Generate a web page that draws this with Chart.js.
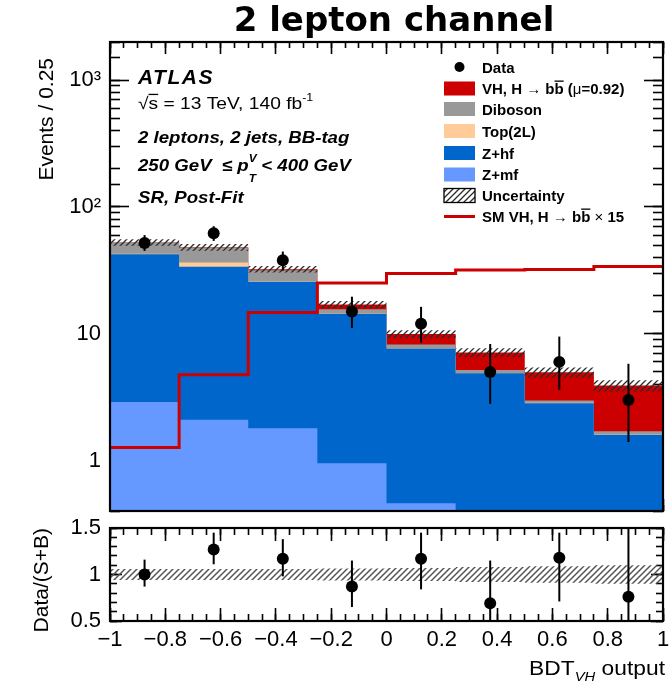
<!DOCTYPE html>
<html>
<head>
<meta charset="utf-8">
<title>2 lepton channel</title>
<script src="https://cdn.jsdelivr.net/npm/chart.js@4.4.0/dist/chart.umd.min.js"></script>
<style>
  body { margin: 0; background: #fff; }
  #wrap { position: relative; width: 671px; height: 692px; }
  #mainChart { position: absolute; left: 0; top: 0; }
  #ratioChart { position: absolute; left: 0; top: 496px; }
</style>
</head>
<body>
<div id="wrap">
  <canvas id="mainChart" width="671" height="516"></canvas>
  <canvas id="ratioChart" width="671" height="196"></canvas>
</div>
<script>
// BDT_VH output binning (8 bins of 0.25)
const binEdges = [-1, -0.75, -0.5, -0.25, 0, 0.25, 0.5, 0.75, 1];

// post-fit yields per bin
const zmf     = [2.9, 2.1, 1.8, 0.95, 0.46, 0.3, 0.25, 0.15];
const zhf     = [39.5, 31.6, 23.9, 13.35, 7.2, 4.57, 2.58, 1.45];
const top2L   = [0.4, 2.7, 0.3, 0.1, 0.05, 0.03, 0.02, 0.01];
const diboson = [9.6, 11.4, 5.7, 1.2, 0.5, 0.27, 0.12, 0.09];
const signal  = [0.1, 0.3, 0.6, 1.4, 1.75, 1.96, 2.0, 2.2];
const smVHx15 = [1.27, 4.75, 14.7, 25.1, 29.9, 31.9, 32.1, 33.9];
const relUnc  = [0.06, 0.06, 0.06, 0.065, 0.07, 0.08, 0.09, 0.10];

// observed events and error bar ends
const dataObs  = [52, 62, 38, 15, 12, 5, 6, 3];
const dataLow  = [45, 54, 31.5, 11.1, 8.5, 2.8, 3.6, 1.4];
const dataHigh = [60, 70.5, 44.5, 19.6, 16.3, 8.3, 9.5, 5.8];

// Data/(S+B)
const ratioObs  = [1.0, 1.27, 1.17, 0.87, 1.17, 0.69, 1.18, 0.76];
const ratioLow  = [0.87, 1.11, 0.98, 0.65, 0.84, 0.40, 0.71, 0.35];
const ratioHigh = [1.16, 1.45, 1.38, 1.15, 1.45, 1.15, 1.45, 1.60];

const colors = {
  signal: '#cc0000',
  diboson: '#999999',
  top2L: '#ffcc99',
  zhf: '#0066cc',
  zmf: '#6699ff',
  smLine: '#cc0000'
};

const SANS = '"Liberation Sans", Arial, Helvetica, sans-serif';
const font = (style, size) => `${style} ${size}px ${SANS}`;

const binCenters = binEdges.slice(0, -1).map((e, i) => (e + binEdges[i + 1]) / 2);

// histogram as a stepped line: one point per left edge plus the closing edge
function stepPoints(values) {
  const pts = values.map((v, i) => ({ x: binEdges[i], y: v }));
  pts.push({ x: binEdges[binEdges.length - 1], y: values[values.length - 1] });
  return pts;
}

function addLayers(...layers) {
  return layers[0].map((_, i) => layers.reduce((s, l) => s + l[i], 0));
}

function hatchPattern(color, width) {
  const c = document.createElement('canvas');
  c.width = 6; c.height = 6;
  const g = c.getContext('2d');
  g.strokeStyle = color;
  g.lineWidth = width;
  g.beginPath();
  g.moveTo(0, 6); g.lineTo(6, 0);
  g.moveTo(-1, 1); g.lineTo(1, -1);
  g.moveTo(5, 7); g.lineTo(7, 5);
  g.stroke();
  return g.createPattern(c, 'repeat');
}

// stacked tops, bottom layer first
const stackZmf = zmf;
const stackZhf = addLayers(zmf, zhf);
const stackTop = addLayers(zmf, zhf, top2L);
const stackDib = addLayers(zmf, zhf, top2L, diboson);
const stackAll = addLayers(zmf, zhf, top2L, diboson, signal);
const bandUp = stackAll.map((v, i) => v * (1 + relUnc[i]));
const bandDn = stackAll.map((v, i) => v * (1 - relUnc[i]));

// run of text pieces with their own fonts / offsets, sx stretches horizontally
function textWidth(ctx, parts, sx = 1) {
  let w = 0;
  parts.forEach(p => {
    ctx.font = p.f;
    ctx.letterSpacing = p.ls || '0px';
    if (!p.stay) w += ctx.measureText(p.t).width;
  });
  ctx.letterSpacing = '0px';
  return w * sx;
}

function drawRich(ctx, x, y, parts, sx = 1) {
  ctx.save();
  ctx.translate(x, y);
  ctx.scale(sx, 1);
  let cx = 0;
  parts.forEach(p => {
    ctx.font = p.f;
    ctx.letterSpacing = p.ls || '0px';
    const w = ctx.measureText(p.t).width;
    ctx.fillText(p.t, cx, p.dy || 0);
    if (p.bar) {
      const size = parseFloat(p.f.match(/(\d+(\.\d+)?)px/)[1]);
      ctx.fillRect(cx, (p.dy || 0) - size * 0.86 - 0.6, w, 1.3);
    }
    if (!p.stay) cx += w;
  });
  ctx.restore();
}

const isDecade = v => Math.abs(Math.log10(v) - Math.round(Math.log10(v))) < 1e-6;
const isHalf = v => Math.abs(v * 2 - Math.round(v * 2)) < 1e-6;
const decadeText = { 0: '1', 1: '10', 2: '10\u00B2', 3: '10\u00B3' };

// scriptable tick colour: only keep the marks where keep(value) holds
const tickColorIf = keep => c => (c.tick && keep(c.tick.value)) ? '#000' : 'rgba(0,0,0,0)';

// grid options that draw short tick marks pointing into the plot area
const innerTicks = (len, color) => ({
  display: true,
  drawOnChartArea: false,
  drawTicks: true,
  tickLength: -len,
  tickWidth: 1.6,
  tickColor: color || '#000'
});

// a zero-size axis that only contributes tick marks along one edge of the frame
function tickAxis(type, position, min, max, len, step, color) {
  return {
    type, position, min, max,
    display: true,
    weight: 0,
    afterFit: s => {
      if (s.isHorizontal()) s.height = 0; else s.width = 0;
      s.paddingTop = 0; s.paddingBottom = 0; s.paddingLeft = 0; s.paddingRight = 0;
    },
    border: { display: false },
    grid: innerTicks(len, color),
    ticks: { display: false, autoSkip: false, stepSize: step }
  };
}

// plot frame
const frame = {
  id: 'frame',
  afterDraw(chart) {
    const { ctx, chartArea: a } = chart;
    ctx.save();
    ctx.strokeStyle = '#000';
    ctx.lineWidth = 2.2;
    ctx.strokeRect(a.left, a.top, a.right - a.left, a.bottom - a.top);
    ctx.restore();
  }
};

// vertical error bars on the data markers
function errorBars(low, high) {
  return {
    id: 'errorBars',
    afterDatasetsDraw(chart) {
      const { ctx, chartArea: a, scales: { x, y } } = chart;
      ctx.save();
      ctx.beginPath();
      ctx.rect(a.left, a.top, a.right - a.left, a.bottom - a.top);
      ctx.clip();
      ctx.strokeStyle = '#000';
      ctx.lineWidth = 2;
      low.forEach((lo, i) => {
        const px = x.getPixelForValue(binCenters[i]);
        ctx.beginPath();
        ctx.moveTo(px, y.getPixelForValue(lo));
        ctx.lineTo(px, y.getPixelForValue(high[i]));
        ctx.stroke();
      });
      ctx.restore();
    }
  };
}

const mainHatch = hatchPattern('#2b2b2b', 1.3);
const ratioHatch = hatchPattern('#555555', 1.5);

// title, axis title, ATLAS label and legend of the upper panel
const mainDecor = {
  id: 'mainDecor',
  afterDraw(chart) {
    const { ctx, chartArea: a } = chart;
    ctx.save();
    ctx.fillStyle = '#000';
    ctx.strokeStyle = '#000';
    ctx.textBaseline = 'alphabetic';

    ctx.font = 'bold 34px "DejaVu Sans", sans-serif';
    ctx.textAlign = 'center';
    ctx.fillText('2 lepton channel', 394, 31);

    // y axis title, top aligned
    ctx.save();
    ctx.translate(53, a.top + 16);
    ctx.rotate(-Math.PI / 2);
    ctx.textAlign = 'right';
    ctx.font = font('normal', 21);
    ctx.fillText('Events / 0.25', 0, 0);
    ctx.restore();

    ctx.textAlign = 'left';
    const lx = 138, st = 1.13;
    drawRich(ctx, lx, 84, [{ t: 'ATLAS', f: font('italic bold', 21), ls: '1.5px' }]);
    drawRich(ctx, lx, 109, [
      { t: '\u221A', f: font('normal', 17) },
      { t: 's', f: font('normal', 17), bar: true },
      { t: ' = 13 TeV, 140 fb', f: font('normal', 17) },
      { t: '-1', f: font('normal', 11), dy: -8 }
    ], st);
    drawRich(ctx, lx, 143, [{ t: '2 leptons, 2 jets, BB-tag', f: font('italic bold', 16.5) }], st);
    drawRich(ctx, lx, 171, [
      { t: '250 GeV  \u2264 ', f: font('italic bold', 16.5) },
      { t: 'p', f: font('italic bold', 16.5) },
      { t: 'V', f: font('italic bold', 10.5), dy: -9, stay: true },
      { t: 'T', f: font('italic bold', 10.5), dy: 11 },
      { t: ' < 400 GeV', f: font('italic bold', 16.5) }
    ], st);
    drawRich(ctx, lx, 203, [{ t: 'SR, Post-Fit', f: font('italic bold', 16.5) }], st);

    // legend
    const bx = 444, bw = 31, bh = 14, tx = 482;
    const rows = [67, 88.5, 109, 131, 153, 174.5, 195.5, 216.5];
    const bold = font('bold', 15), reg = font('normal', 15);
    const hbb = [
      { t: 'H ', f: bold },
      { t: '\u2192', f: reg },
      { t: ' b', f: bold },
      { t: 'b', f: bold, bar: true }
    ];

    ctx.beginPath();
    ctx.arc(bx + bw / 2, rows[0], 5, 0, Math.PI * 2);
    ctx.fill();
    drawRich(ctx, tx, rows[0] + 5.5, [{ t: 'Data', f: bold }]);

    const boxes = [
      [colors.signal, [{ t: 'VH, ', f: bold }, ...hbb, { t: ' (', f: bold }, { t: '\u03BC', f: reg }, { t: '=0.92)', f: bold }]],
      [colors.diboson, [{ t: 'Diboson', f: bold }]],
      [colors.top2L, [{ t: 'Top(2L)', f: bold }]],
      [colors.zhf, [{ t: 'Z+hf', f: bold }]],
      [colors.zmf, [{ t: 'Z+mf', f: bold }]]
    ];
    boxes.forEach(([c, parts], i) => {
      const cy = rows[i + 1];
      ctx.fillStyle = c;
      ctx.fillRect(bx, cy - bh / 2, bw, bh);
      ctx.fillStyle = '#000';
      drawRich(ctx, tx, cy + 5.5, parts);
    });

    let cy = rows[6];
    ctx.fillStyle = mainHatch;
    ctx.fillRect(bx, cy - bh / 2, bw, bh);
    ctx.lineWidth = 1.3;
    ctx.strokeRect(bx, cy - bh / 2, bw, bh);
    ctx.fillStyle = '#000';
    drawRich(ctx, tx, cy + 5.5, [{ t: 'Uncertainty', f: bold }]);

    cy = rows[7];
    ctx.fillStyle = colors.smLine;
    ctx.fillRect(bx, cy - 1.5, bw, 3);
    ctx.fillStyle = '#000';
    drawRich(ctx, tx, cy + 5.5, [{ t: 'SM VH, ', f: bold }, ...hbb, { t: ' \u00D7 ', f: reg }, { t: '15', f: bold }]);
    ctx.restore();
  }
};

const ratioDecor = {
  id: 'ratioDecor',
  afterDraw(chart) {
    const { ctx, chartArea: a } = chart;
    ctx.save();
    ctx.fillStyle = '#000';
    ctx.textBaseline = 'alphabetic';

    ctx.save();
    ctx.translate(48, a.top);
    ctx.rotate(-Math.PI / 2);
    ctx.textAlign = 'right';
    ctx.font = font('normal', 21);
    ctx.fillText('Data/(S+B)', 0, 0);
    ctx.restore();

    // x axis title, right aligned at the frame edge
    ctx.textAlign = 'left';
    const parts = [
      { t: 'BDT', f: font('normal', 20) },
      { t: 'VH', f: font('italic', 13), dy: 6 },
      { t: ' output', f: font('normal', 20) }
    ];
    const sx = 1.14;
    drawRich(ctx, a.right + 2 - textWidth(ctx, parts, sx), a.bottom + 54, parts, sx);
    ctx.restore();
  }
};

const lineSet = (label, values, color) => ({
  label,
  data: stepPoints(values),
  stepped: 'before',
  borderWidth: 0,
  pointRadius: 0,
  backgroundColor: color,
  fill: 'start'
});

// fixed axis widths and no automatic padding so both panels line up
const fixWidth = s => { s.width = 110; s.paddingTop = 0; s.paddingBottom = 0; };
const fixHeight = s => { s.height = 71; s.paddingLeft = 0; s.paddingRight = 0; };

new Chart(document.getElementById('mainChart').getContext('2d'), {
  type: 'line',
  data: {
    datasets: [
      {
        label: 'Data',
        data: dataObs.map((v, i) => ({ x: binCenters[i], y: v })),
        showLine: false,
        pointRadius: 6,
        pointBackgroundColor: '#000',
        pointBorderWidth: 0
      },
      {
        label: 'SM VH x15',
        data: stepPoints(smVHx15),
        stepped: 'before',
        borderColor: colors.smLine,
        borderWidth: 3,
        pointRadius: 0,
        fill: false
      },
      {
        label: 'Uncertainty',
        data: stepPoints(bandUp),
        stepped: 'before',
        borderWidth: 0,
        pointRadius: 0,
        backgroundColor: mainHatch,
        fill: 3
      },
      {
        label: 'Uncertainty low',
        data: stepPoints(bandDn),
        stepped: 'before',
        borderWidth: 0,
        pointRadius: 0,
        fill: false
      },
      lineSet('Z+mf', stackZmf, colors.zmf),
      lineSet('Z+hf', stackZhf, colors.zhf),
      lineSet('Top(2L)', stackTop, colors.top2L),
      lineSet('Diboson', stackDib, colors.diboson),
      lineSet('VH, H->bb', stackAll, colors.signal)
    ]
  },
  options: {
    responsive: false,
    animation: false,
    layout: { autoPadding: false, padding: { top: 42, right: 8, bottom: 5, left: 0 } },
    plugins: { legend: { display: false }, tooltip: { enabled: false } },
    scales: {
      x: { type: 'linear', min: -1, max: 1, display: false },
      y: {
        type: 'logarithmic',
        position: 'left',
        weight: 1,
        min: 0.4,
        max: 2000,
        afterFit: fixWidth,
        grid: innerTicks(19, tickColorIf(isDecade)),
        border: { display: false },
        ticks: {
          autoSkip: false,
          padding: 28,
          color: '#000',
          font: { family: SANS, size: 22 },
          callback: v => isDecade(v) ? decadeText[Math.round(Math.log10(v))] : ''
        }
      },
      yLeftMinor: tickAxis('logarithmic', 'left', 0.4, 2000, 10),
      yRight: tickAxis('logarithmic', 'right', 0.4, 2000, 19, undefined, tickColorIf(isDecade)),
      yRightMinor: tickAxis('logarithmic', 'right', 0.4, 2000, 10),
      xBottom: tickAxis('linear', 'bottom', -1, 1, 12, 0.2),
      xBottomMinor: tickAxis('linear', 'bottom', -1, 1, 6, 0.05),
      xTop: tickAxis('linear', 'top', -1, 1, 12, 0.2),
      xTopMinor: tickAxis('linear', 'top', -1, 1, 6, 0.05)
    }
  },
  plugins: [errorBars(dataLow, dataHigh), frame, mainDecor]
});

new Chart(document.getElementById('ratioChart').getContext('2d'), {
  type: 'line',
  data: {
    datasets: [
      {
        label: 'Data/(S+B)',
        data: ratioObs.map((v, i) => ({ x: binCenters[i], y: v })),
        showLine: false,
        pointRadius: 6,
        pointBackgroundColor: '#000',
        pointBorderWidth: 0
      },
      {
        label: 'Uncertainty',
        data: stepPoints(relUnc.map(u => 1 + u)),
        stepped: 'before',
        borderWidth: 0,
        pointRadius: 0,
        backgroundColor: ratioHatch,
        fill: 2
      },
      {
        label: 'Uncertainty low',
        data: stepPoints(relUnc.map(u => 1 - u)),
        stepped: 'before',
        borderWidth: 0,
        pointRadius: 0,
        fill: false
      }
    ]
  },
  options: {
    responsive: false,
    animation: false,
    layout: { autoPadding: false, padding: { top: 32, right: 8, bottom: 0, left: 0 } },
    plugins: { legend: { display: false }, tooltip: { enabled: false } },
    scales: {
      x: {
        type: 'linear',
        position: 'bottom',
        weight: 1,
        min: -1,
        max: 1,
        afterFit: fixHeight,
        grid: innerTicks(13),
        border: { display: false },
        ticks: {
          stepSize: 0.2,
          autoSkip: false,
          maxRotation: 0,
          padding: 19,
          color: '#000',
          font: { family: SANS, size: 22 },
          callback: v => Math.abs(v) < 1e-9 ? '0' : String(Math.round(v * 10) / 10).replace('-', '\u2212')
        }
      },
      y: {
        position: 'left',
        weight: 1,
        min: 0.5,
        max: 1.5,
        afterFit: fixWidth,
        grid: innerTicks(12, tickColorIf(isHalf)),
        border: { display: false },
        ticks: {
          stepSize: 0.1,
          autoSkip: false,
          padding: 21,
          color: '#000',
          font: { family: SANS, size: 22 },
          callback: v => isHalf(v) ? String(Math.round(v * 10) / 10) : ''
        }
      },
      yLeftMinor: tickAxis('linear', 'left', 0.5, 1.5, 7, 0.1),
      yRight: tickAxis('linear', 'right', 0.5, 1.5, 12, 0.1, tickColorIf(isHalf)),
      yRightMinor: tickAxis('linear', 'right', 0.5, 1.5, 7, 0.1),
      xBottomMinor: tickAxis('linear', 'bottom', -1, 1, 7, 0.05),
      xTop: tickAxis('linear', 'top', -1, 1, 13, 0.2),
      xTopMinor: tickAxis('linear', 'top', -1, 1, 7, 0.05)
    }
  },
  plugins: [errorBars(ratioLow, ratioHigh), frame, ratioDecor]
});
</script>
</body>
</html>
